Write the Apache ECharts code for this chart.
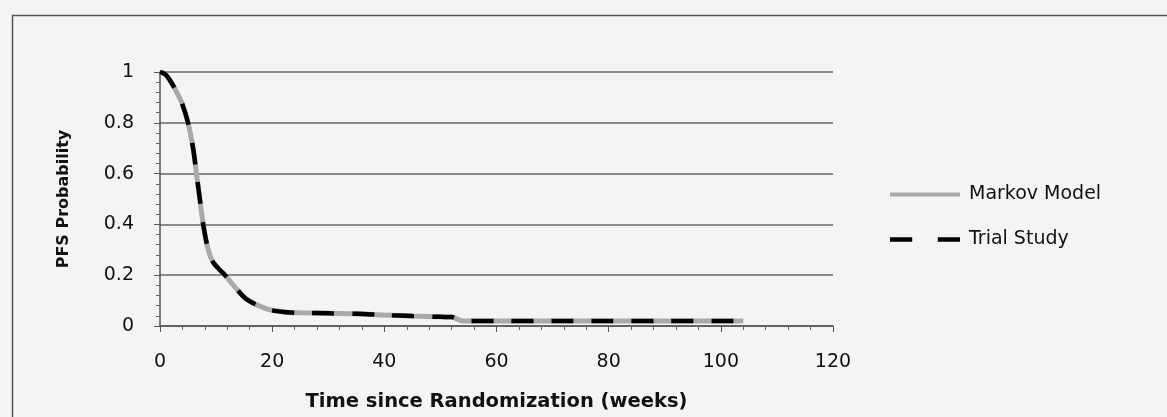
<!DOCTYPE html>
<html>
<head>
<meta charset="utf-8">
<script src="https://cdn.jsdelivr.net/npm/echarts@6/dist/echarts.min.js"></script>
<style>
  html, body { margin: 0; padding: 0; background: #f4f4f4; }
  #chart { width: 1167px; height: 417px; }
</style>
</head>
<body>
<div id="chart"></div>
<script>
// weeks since randomization
const weeks = [0, 1, 2.1, 3, 3.9, 5, 5.9, 6.5, 7.1, 7.7, 8.6, 9.5, 10.7, 11.6, 13.5, 15.4, 19, 22.6, 25, 30, 35, 40, 45, 50, 52, 54, 56, 60, 70, 80, 90, 100, 104]
const markovModel = [1, 0.99, 0.956, 0.92, 0.878, 0.8, 0.7, 0.6, 0.5, 0.4, 0.3, 0.25, 0.22, 0.2, 0.15, 0.106, 0.067, 0.054, 0.052, 0.05, 0.048, 0.043, 0.039, 0.036, 0.035, 0.02, 0.02, 0.02, 0.02, 0.02, 0.02, 0.02, 0.02]
const trialStudy = [1, 0.99, 0.956, 0.92, 0.878, 0.8, 0.7, 0.6, 0.5, 0.4, 0.3, 0.25, 0.22, 0.2, 0.15, 0.106, 0.067, 0.054, 0.052, 0.05, 0.048, 0.043, 0.039, 0.036, 0.035, 0.02, 0.02, 0.02, 0.02, 0.02, 0.02, 0.02, 0.02]
const seriesNames = ['Markov Model', 'Trial Study']

const font = '"DejaVu Sans", "Noto Sans", sans-serif'
const toPairs = (ys) => weeks.map((w, i) => [w, ys[i]])

const chart = echarts.init(document.getElementById('chart'))
chart.setOption({
  animation: false,
  backgroundColor: '#f4f4f4',
  textStyle: { fontFamily: font },
  grid: { left: 160, right: 334, top: 72, bottom: 90 },
  graphic: [{
    type: 'rect',
    left: 10, top: 13,
    shape: { width: 1170, height: 420 },
    style: { fill: 'none', stroke: '#555', lineWidth: 1.5 },
    silent: true
  }],
  legend: {
    orient: 'vertical',
    left: 885, top: 180,
    itemWidth: 70, itemHeight: 14, itemGap: 26,
    textStyle: { fontSize: 19, color: '#111', fontFamily: font, padding: [0, 0, 0, 4] },
    data: [
      { name: seriesNames[0], icon: 'path://M0,0 H70 V4 H0 Z', itemStyle: { color: '#a9a9a9' } },
      { name: seriesNames[1], icon: 'path://M0,0 H20 V4 H0 Z M43,0 H63 V4 H43 Z', itemStyle: { color: '#000' } }
    ]
  },
  xAxis: {
    type: 'value',
    min: 0, max: 120, interval: 20,
    name: 'Time since Randomization (weeks)',
    nameLocation: 'middle', nameGap: 66,
    nameTextStyle: { fontSize: 19.5, fontWeight: 'bold', color: '#111', fontFamily: font },
    axisLine: { lineStyle: { color: '#555', width: 1.5 } },
    axisTick: { show: true, length: 6, inside: false, lineStyle: { color: '#555' } },
    minorTick: { show: true, splitNumber: 5, length: 4, lineStyle: { color: '#666' } },
    splitLine: { show: false },
    axisLabel: { fontSize: 19, color: '#111', margin: 27, fontFamily: font }
  },
  yAxis: {
    type: 'value',
    min: 0, max: 1, interval: 0.2,
    name: 'PFS Probability',
    nameLocation: 'middle', nameGap: 88, nameRotate: 90,
    nameTextStyle: { fontSize: 16, fontWeight: 'bold', color: '#111', fontFamily: font },
    axisLine: { show: true, lineStyle: { color: '#555', width: 1.5 } },
    axisTick: { show: true, length: 6, lineStyle: { color: '#555' } },
    minorTick: { show: true, splitNumber: 5, length: 4, lineStyle: { color: '#666' } },
    splitLine: { show: true, lineStyle: { color: '#666', width: 1.5 } },
    axisLabel: { fontSize: 19, color: '#111', margin: 26, fontFamily: font }
  },
  series: [
    {
      name: seriesNames[0],
      type: 'line',
      data: toPairs(markovModel),
      smooth: 0.3,
      symbol: 'none',
      z: 2,
      lineStyle: { color: '#a9a9a9', width: 5 },
      itemStyle: { color: '#a9a9a9' }
    },
    {
      name: seriesNames[1],
      type: 'line',
      data: toPairs(trialStudy),
      smooth: 0.3,
      symbol: 'none',
      z: 3,
      lineStyle: { color: '#000', width: 4.5, type: [22, 18] },
      itemStyle: { color: '#000' }
    }
  ]
})
</script>
</body>
</html>
